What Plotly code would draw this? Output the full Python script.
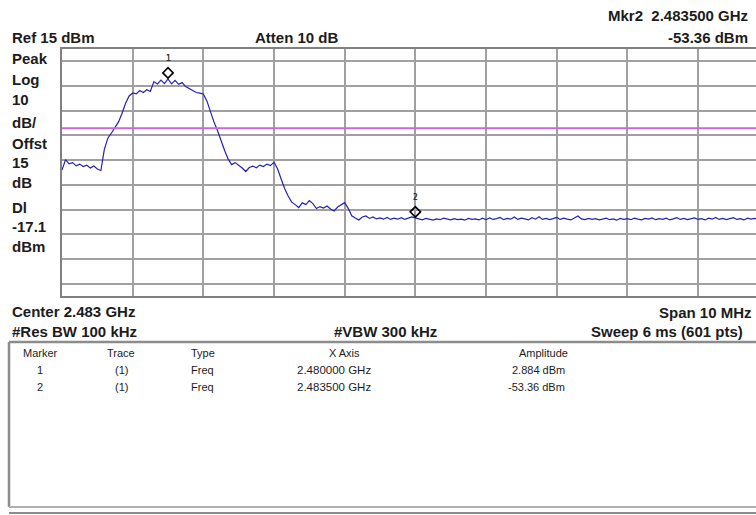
import numpy as np
import plotly.graph_objects as go

# sweep setup (center shown rounded as 2.483 GHz on the instrument)
center_ghz = 2.4835
span_ghz = 0.010
ref_level = 15.0
db_per_div = 10.0
display_line = -17.1

# trace amplitudes, dBm (every 50 kHz from the left edge)
trace_dbm = [
    -34.0, -29.8, -31.5, -31.0, -32.3, -31.6, -32.6, -32.0, -33.2, -32.4,
    -33.6, -34.2, -25.5, -21.0, -19.0, -17.0, -14.5, -11.0, -7.0, -4.0,
    -2.8, -3.2, -1.8, -2.6, -1.5, -2.2, 1.8, 0.8, 2.4, 1.0,
    2.884, 0.9, 2.3, 0.7, 1.4, -0.2, -0.9, -1.8, -2.6, -2.9,
    -3.2, -6.0, -10.5, -14.5, -18.0, -22.5, -26.0, -29.5, -31.8, -31.0,
    -32.0, -33.2, -34.6, -33.0, -32.4, -33.1, -32.0, -32.6, -31.6, -32.2,
    -30.8, -33.5, -37.5, -41.5, -44.5, -47.0, -48.0, -49.2, -47.3, -48.0,
    -46.4, -47.6, -49.6, -48.8, -49.4, -48.6, -49.8, -50.6, -49.0, -48.0,
    -47.2, -49.5, -52.5, -53.4, -54.2, -53.0, -52.6, -53.6, -53.0, -53.8,
    -53.4, -53.9, -53.2, -54.0, -53.5, -53.9, -53.3, -54.0, -53.6, -53.0,
    -53.36,
    -53.9, -54.2, -53.6, -54.0, -54.3, -53.8, -54.1, -53.5, -54.0, -54.2,
    -53.7, -54.1, -53.9, -54.3, -53.6, -54.0, -53.8, -54.2, -53.5, -54.1,
    -53.4, -54.0, -53.7, -53.2, -54.1, -53.6, -53.9, -53.0, -54.0, -53.5,
    -53.8, -54.2, -53.3, -53.9, -52.9, -54.0, -53.6, -54.1, -53.7, -53.2,
    -54.0, -53.5, -53.9, -54.2, -53.4, -52.6, -53.8, -54.1, -53.6, -54.0,
    -53.7, -54.2, -53.9, -53.5, -54.1, -53.8, -54.3, -53.6, -54.0, -53.7,
    -54.1, -53.5, -53.9, -54.2, -53.6, -53.9, -53.4, -54.1, -53.7, -54.0,
    -53.5, -54.2, -53.8, -53.3, -54.0, -53.6, -54.1, -53.8, -53.4, -54.0,
    -53.7, -54.2, -53.5, -53.9, -53.2, -54.0, -53.6, -54.1, -53.8, -53.3,
    -54.0, -53.7, -54.2, -53.5, -53.9, -53.6, -54.1, -53.8, -53.5, -54.0,
]

# markers
mkr_names = ["1", "2"]
mkr_freq_ghz = [2.480000, 2.483500]
mkr_amp_dbm = [2.884, -53.36]

f_start = center_ghz - span_ghz / 2
freq_ghz = np.linspace(f_start, f_start + span_ghz, len(trace_dbm))

# screen geometry: the grid runs past the right edge of the capture
W, H = 756, 515
PL, PT, PB = 62, 49, 296
grid_w = 706.7
visible = (W - PL) / grid_w
lift_db = 6 / ((PB - PT) / (10 * db_per_div))  # diamonds sit ~6px above the trace point


def px(x, y):
    return (x - PL) / (W - PL), (PB - y) / (PB - PT)


FONT = "Liberation Sans, Arial, sans-serif"
INK = "#1c1c1c"
FRAME = "#8c8c8c"

fig = go.Figure()
fig.add_trace(go.Scatter(x=freq_ghz, y=trace_dbm, mode="lines",
                         line=dict(color="#2222b4", width=1.2), hoverinfo="skip"))
fig.add_trace(go.Scatter(x=[f_start, f_start + span_ghz], y=[display_line, display_line],
                         mode="lines", line=dict(color="#c86ad6", width=2), hoverinfo="skip"))
fig.add_trace(go.Scatter(x=mkr_freq_ghz, y=[a + lift_db for a in mkr_amp_dbm], mode="markers",
                         marker=dict(symbol="diamond-open", size=8, color="black",
                                     line=dict(color="black", width=1.6)),
                         hoverinfo="skip"))

for name, f, a in zip(mkr_names, mkr_freq_ghz, mkr_amp_dbm):
    fig.add_annotation(x=f, y=a + lift_db, xref="x", yref="y", text=f"<b>{name}</b>",
                       showarrow=False, yshift=14,
                       font=dict(family="DejaVu Sans Mono", size=8, color="#333"))


def label(text, x, y, anchor="left", size=15, bold=True):
    xp, yp = px(x, y)
    fig.add_annotation(x=xp, y=yp, xref="paper", yref="paper",
                       text=f"<b>{text}</b>" if bold else text, showarrow=False,
                       xanchor=anchor, yanchor="middle",
                       font=dict(family=FONT, size=size, color=INK))


label("Mkr2  2.483500 GHz", 750, 15, "right")
label("-53.36 dBm", 750, 37, "right")
label(f"Ref {ref_level:.0f} dBm", 10, 37)
label("Atten 10 dB", 297, 37, "center")

side = ["Peak", "Log", "10", "dB/", "Offst", "15", "dB", "Dl", "-17.1", "dBm"]
side_y = [58, 80, 100, 122, 143, 162, 182, 207, 226, 246]
for t, y in zip(side, side_y):
    label(t, 10, y)

label("Center 2.483 GHz", 10, 311)
label("Span 10 MHz", 754, 312, "right")
label("#Res BW 100 kHz", 10, 331)
label("#VBW 300 kHz", 385, 331, "center")
label("Sweep 6 ms (601 pts)", 745, 331, "right")

# marker table
label("Marker", 40, 353, "center", 11, False)
label("Trace", 121, 353, "center", 11, False)
label("Type", 189, 353, "left", 11, False)
label("X Axis", 344, 353, "center", 11, False)
label("Amplitude", 543, 353, "center", 11, False)
for i, (name, f, a) in enumerate(zip(mkr_names, mkr_freq_ghz, mkr_amp_dbm)):
    y = 370 + i * 17
    label(name, 40, y, "center", 11, False)
    label("(1)", 121, y, "center", 11, False)
    label("Freq", 189, y, "left", 11, False)
    label(f"{f:.6f} GHz", 334, y, "center", 11.5, False)
    label(f"{a:g} dBm", 567, y, "right", 11, False)

# table frame
x0, y0 = px(9, 342)
x1, y1 = px(760, 507)
fig.add_shape(type="line", xref="paper", yref="paper", x0=x0, y0=y0, x1=x1, y1=y0,
              line=dict(color=FRAME, width=2.5))
fig.add_shape(type="line", xref="paper", yref="paper", x0=x0, y0=y0, x1=x0, y1=y1,
              line=dict(color=FRAME, width=2.5))
fig.add_shape(type="line", xref="paper", yref="paper", x0=x0, y0=y1, x1=x1, y1=y1,
              line=dict(color="#b0b0b0", width=2))
xa, ya = px(9, 513)
fig.add_shape(type="line", xref="paper", yref="paper", x0=xa, y0=ya, x1=x1, y1=ya,
              line=dict(color=FRAME, width=2))

fig.update_layout(
    width=W, height=H,
    margin=dict(l=PL, r=0, t=PT, b=H - PB, pad=0),
    paper_bgcolor="white", plot_bgcolor="white",
    showlegend=False,
    xaxis=dict(range=[f_start, f_start + span_ghz * visible], tick0=f_start, dtick=span_ghz / 10,
               showgrid=True, gridcolor="#a0a0a0", gridwidth=1.5, showticklabels=False,
               ticks="", zeroline=False, showline=True, mirror=True,
               linecolor="#808080", linewidth=2),
    yaxis=dict(range=[ref_level - 10 * db_per_div, ref_level], dtick=db_per_div,
               showgrid=True, gridcolor="#a0a0a0", gridwidth=1.5, showticklabels=False,
               ticks="", zeroline=False, showline=True, mirror=False,
               linecolor="#808080", linewidth=2),
)

fig.write_html("out.html", config={"displayModeBar": False})

# drop the browser's default page margin so the figure sits at the top-left corner
with open("out.html", encoding="utf-8") as fh:
    page = fh.read()
page = page.replace("<head>", "<head><style>html,body{margin:0;padding:0;overflow:hidden}</style>", 1)
with open("out.html", "w", encoding="utf-8") as fh:
    fh.write(page)
